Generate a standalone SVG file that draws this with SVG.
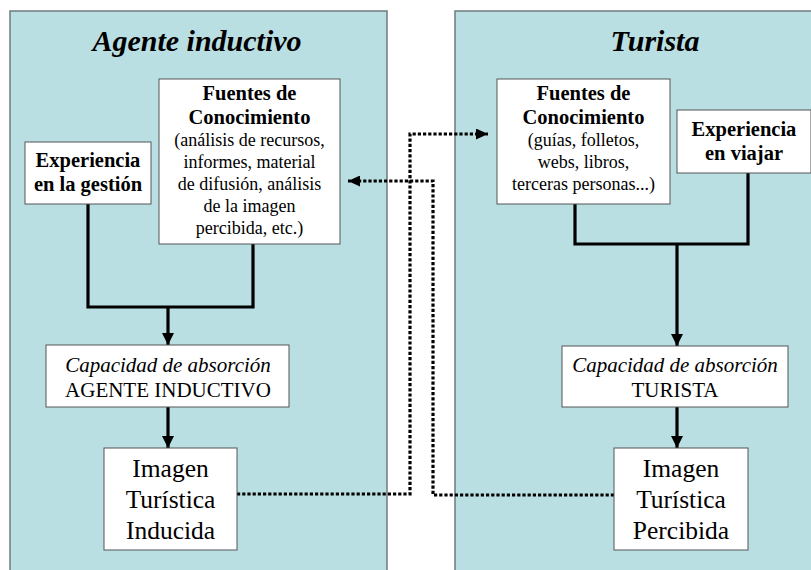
<svg xmlns="http://www.w3.org/2000/svg" width="811" height="570" viewBox="0 0 811 570">
<style>
.panel{fill:#b9dfe3;stroke:#6e7b7d;stroke-width:1.5}
.box{fill:#fff;stroke:#555;stroke-width:1}
text{font-family:"Liberation Serif","Times New Roman",serif;fill:#000;text-anchor:middle}
.title{font-size:30px;font-weight:bold;font-style:italic}
.b{font-size:20.5px;font-weight:bold}
.n{font-size:18px}
.cap{font-size:21px}
.it{font-style:italic}
.img{font-size:25.5px}
.thick{fill:none;stroke:#000;stroke-width:3.2}
.dot{fill:none;stroke:#000;stroke-width:3.2;stroke-dasharray:3.2 2}
</style>
<defs>
<marker id="ah" markerUnits="userSpaceOnUse" markerWidth="12" markerHeight="14" refX="12" refY="6" orient="auto" viewBox="0 0 12 12">
<path d="M0,0 L12,6 L0,12 Z" fill="#000"/>
</marker>
<marker id="ahd" markerUnits="userSpaceOnUse" markerWidth="12" markerHeight="11" refX="12" refY="5.5" orient="auto" viewBox="0 0 12 11">
<path d="M0,0 L12,5.5 L0,11 Z" fill="#000"/>
</marker>
</defs>

<g id="panel-agente">
<rect class="panel" x="10" y="11" width="377" height="575"/>
<text class="title" x="197" y="51">Agente inductivo</text>
</g>
<g id="panel-turista">
<rect class="panel" x="455" y="11" width="400" height="575"/>
<text class="title" x="655" y="51">Turista</text>
</g>

<g id="connectors">
<path class="thick" d="M88,204 V307 H253 V244"/>
<path class="thick" d="M168,307 V345" marker-end="url(#ah)"/>
<path class="thick" d="M168,407 V448" marker-end="url(#ah)"/>
<path class="thick" d="M575,204 V244 H748 V173"/>
<path class="thick" d="M677,244 V346" marker-end="url(#ah)"/>
<path class="thick" d="M677,407 V448" marker-end="url(#ah)"/>
<path class="dot" d="M237,494 H410 V134 H488" marker-end="url(#ahd)"/>
<path class="dot" d="M614,495 H433 V181 H348" marker-end="url(#ahd)"/>
</g>

<g id="fuentes-agente">
<rect class="box" x="159" y="79" width="181" height="165"/>
<text class="b" x="249.5" y="100">Fuentes de</text>
<text class="b" x="249.5" y="124">Conocimiento</text>
<text class="n" x="249.5" y="146">(análisis de recursos,</text>
<text class="n" x="249.5" y="168">informes, material</text>
<text class="n" x="249.5" y="190">de difusión, análisis</text>
<text class="n" x="249.5" y="212">de la imagen</text>
<text class="n" x="249.5" y="234">percibida, etc.)</text>
</g>

<g id="experiencia-gestion">
<rect class="box" x="25" y="142" width="126" height="62"/>
<text class="b" x="88" y="167">Experiencia</text>
<text class="b" x="88" y="191">en la gestión</text>
</g>

<g id="capacidad-agente">
<rect class="box" x="46" y="345" width="243" height="62"/>
<text class="cap it" x="168" y="372">Capacidad de absorción</text>
<text class="cap" x="168" y="397">AGENTE INDUCTIVO</text>
</g>

<g id="imagen-inducida">
<rect class="box" x="104" y="448" width="133" height="102"/>
<text class="img" x="170.5" y="477">Imagen</text>
<text class="img" x="170.5" y="508">Turística</text>
<text class="img" x="170.5" y="539">Inducida</text>
</g>

<g id="fuentes-turista">
<rect class="box" x="497" y="79" width="173" height="125"/>
<text class="b" x="583.5" y="100">Fuentes de</text>
<text class="b" x="583.5" y="124">Conocimiento</text>
<text class="n" x="583.5" y="146">(guías, folletos,</text>
<text class="n" x="583.5" y="168">webs, libros,</text>
<text class="n" x="583.5" y="190">terceras personas...)</text>
</g>

<g id="experiencia-viajar">
<rect class="box" x="677" y="110" width="134" height="63"/>
<text class="b" x="744" y="136">Experiencia</text>
<text class="b" x="744" y="160">en viajar</text>
</g>

<g id="capacidad-turista">
<rect class="box" x="562" y="346" width="226" height="61"/>
<text class="cap it" x="675" y="372">Capacidad de absorción</text>
<text class="cap" x="675" y="397">TURISTA</text>
</g>

<g id="imagen-percibida">
<rect class="box" x="614" y="448" width="134" height="102"/>
<text class="img" x="681" y="477">Imagen</text>
<text class="img" x="681" y="508">Turística</text>
<text class="img" x="681" y="539">Percibida</text>
</g>
</svg>
